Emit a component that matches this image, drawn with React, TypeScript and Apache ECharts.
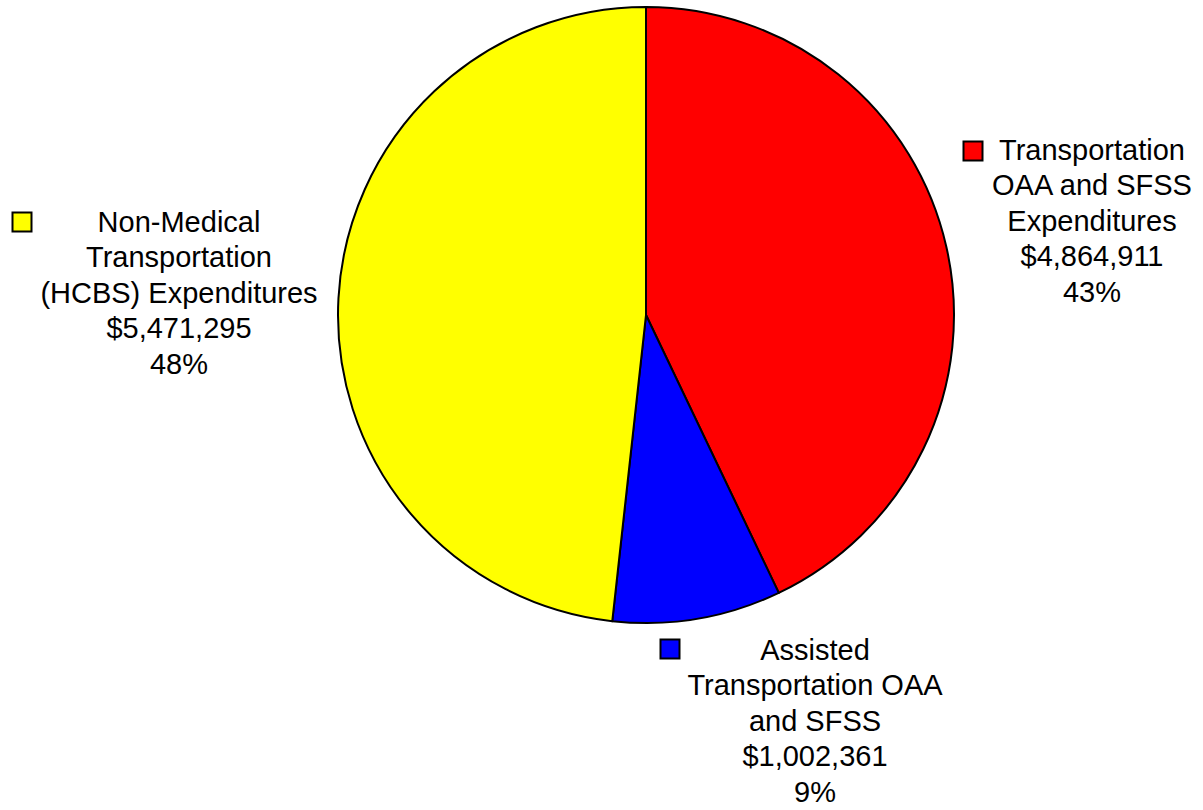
import React, { useEffect, useRef } from "react";
import * as echarts from "echarts";

const categories = [
  "Transportation\nOAA and SFSS\nExpenditures",
  "Assisted\nTransportation OAA\nand SFSS",
  "Non-Medical\nTransportation\n(HCBS) Expenditures",
];
const values = [4864911, 1002361, 5471295];
const colors = ["#ff0000", "#0000ff", "#ffff00"];

// label anchor (center x, top y) and legend key centers
const labelAnchors = [
  [1092, 132],
  [815, 632],
  [179, 204],
];
const keyCenters = [
  [973, 151],
  [670, 649],
  [22, 222],
];

const fmt = (v: number) => "$" + v.toLocaleString("en-US");

export default function App() {
  const ref = useRef<HTMLDivElement>(null);
  useEffect(() => {
    if (!ref.current) return;
    const chart = echarts.init(ref.current, null, { renderer: "svg" });
    const font = "'Liberation Sans', Arial, sans-serif";
    chart.setOption({
      animation: false,
      backgroundColor: "#ffffff",
      graphic: keyCenters.map((c, i) => ({
        type: "rect",
        shape: { x: c[0] - 9.5, y: c[1] - 9.5, width: 19, height: 19 },
        style: { fill: colors[i], stroke: "#000000", lineWidth: 2 },
        z: 10,
      })),
      series: [
        {
          type: "pie",
          center: [646, 315],
          radius: 308,
          startAngle: 90,
          clockwise: true,
          avoidLabelOverlap: false,
          emphasis: { disabled: true },
          itemStyle: { borderColor: "#000000", borderWidth: 2 },
          label: {
            show: true,
            position: "outside",
            fontFamily: font,
            fontSize: 29,
            lineHeight: 35.5,
            color: "#000000",
            align: "center",
            formatter: (p: any) =>
              p.name + "\n" + fmt(p.value) + "\n" + Math.round(p.percent) + "%",
          },
          labelLine: { show: false },
          labelLayout: (p: any) => {
            const a = labelAnchors[p.dataIndex];
            return { x: a[0], y: a[1], align: "center", verticalAlign: "top" };
          },
          data: categories.map((name, i) => ({
            name,
            value: values[i],
            itemStyle: { color: colors[i] },
          })),
        },
      ],
    });
    return () => chart.dispose();
  }, []);
  return (
    <div
      ref={ref}
      style={{ position: "fixed", left: 0, top: 0, width: 1203, height: 810 }}
    />
  );
}
